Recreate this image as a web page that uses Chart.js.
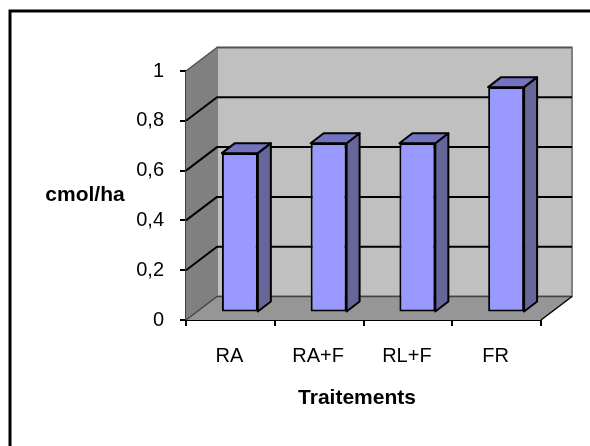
<!DOCTYPE html>
<html>
<head>
<meta charset="utf-8">
<style>
  html, body { margin: 0; padding: 0; background: #fff; }
  #wrap { width: 590px; height: 446px; }
</style>
<script src="https://cdn.jsdelivr.net/npm/chart.js@4"></script>
</head>
<body>
<div id="wrap"><canvas id="chart" width="590" height="446"></canvas></div>
<script>
const categories = ['RA', 'RA+F', 'RL+F', 'FR'];
const values = [0.64, 0.68, 0.68, 0.905];
const yTickLabels = ['0', '0,2', '0,4', '0,6', '0,8', '1'];
const yAxisTitle = 'cmol/ha';
const xAxisTitle = 'Traitements';

// Depth of the fake 3D box, and where the bars sit in it
const wallDx = 31, wallDy = -23.5;
const barDx = 9.5, barDy = -7.5;
const barDepthX = 13, barDepthY = -10;

function poly(ctx, pts, fill, stroke, width) {
    ctx.beginPath();
    pts.forEach((p, i) => i ? ctx.lineTo(p[0], p[1]) : ctx.moveTo(p[0], p[1]));
    ctx.closePath();
    if (fill) { ctx.fillStyle = fill; ctx.fill(); }
    if (stroke) { ctx.strokeStyle = stroke; ctx.lineWidth = width; ctx.lineJoin = 'round'; ctx.stroke(); }
}

// Frame, walls and floor behind the bars
const boxPlugin = {
    id: 'box',
    beforeDatasetsDraw(chart) {
        const ctx = chart.ctx;
        const { left, right, top, bottom } = chart.chartArea;
        const y = chart.scales.y;
        ctx.save();
        poly(ctx, [[left + wallDx, top + wallDy], [right + wallDx, top + wallDy], [right + wallDx, bottom + wallDy], [left + wallDx, bottom + wallDy]], '#c0c0c0', '#808080', 2);
        poly(ctx, [[left, top], [left + wallDx, top + wallDy], [left + wallDx, bottom + wallDy], [left, bottom]], '#808080', '#808080', 1);
        poly(ctx, [[left, bottom], [left + wallDx, bottom + wallDy], [right + wallDx, bottom + wallDy], [right, bottom]], '#969696', null);
        ctx.strokeStyle = '#555';
        ctx.lineWidth = 1.5;
        ctx.beginPath();
        ctx.moveTo(left, top);
        ctx.lineTo(left + wallDx, top + wallDy);
        ctx.lineTo(right + wallDx, top + wallDy);
        ctx.stroke();
        ctx.strokeStyle = '#000';
        ctx.lineWidth = 2;
        y.ticks.forEach(t => {
            if (t.value === 0 || t.value === 1) return;
            const py = y.getPixelForValue(t.value);
            ctx.beginPath();
            ctx.moveTo(left, py);
            ctx.lineTo(left + wallDx, py + wallDy);
            ctx.lineTo(right + wallDx, py + wallDy);
            ctx.stroke();
        });
        ctx.strokeStyle = '#444';
        ctx.lineWidth = 1.5;
        ctx.beginPath();
        ctx.moveTo(left, bottom);
        ctx.lineTo(left + wallDx, bottom + wallDy);
        ctx.lineTo(right + wallDx, bottom + wallDy);
        ctx.stroke();
        ctx.strokeStyle = '#000';
        ctx.beginPath();
        ctx.moveTo(right + wallDx, bottom + wallDy);
        ctx.lineTo(right, bottom);
        ctx.stroke();
        ctx.restore();
    },
    // The library draws the front faces, shifted into the box
    beforeDatasetDraw(chart, args) {
        const ctx = chart.ctx;
        ctx.save();
        ctx.translate(barDx, barDy);
        chart.getDatasetMeta(args.index).data.forEach(bar => {
            const l = bar.x - bar.width / 2, r = bar.x + bar.width / 2;
            const dx = barDepthX, dy = barDepthY;
            poly(ctx, [[r, bar.base], [r + dx, bar.base + dy], [r + dx, bar.y + dy], [r, bar.y]], '#666699', '#000', 2);
            poly(ctx, [[l, bar.y], [l + dx, bar.y + dy], [r + dx, bar.y + dy], [r, bar.y]], '#7373c0', '#000', 2);
        });
    },
    afterDatasetDraw(chart) {
        chart.ctx.restore();
    },
    afterDraw(chart) {
        const ctx = chart.ctx;
        ctx.save();
        // outer frame only shows on the top and left
        ctx.strokeStyle = '#000';
        ctx.lineWidth = 3;
        ctx.beginPath();
        ctx.moveTo(10, 446);
        ctx.lineTo(10, 11);
        ctx.lineTo(590, 11);
        ctx.stroke();
        // axis titles: the y one is horizontal, the x one sits left of centre
        ctx.fillStyle = '#000';
        ctx.font = 'bold 21px "Liberation Sans"';
        ctx.textAlign = 'center';
        ctx.textBaseline = 'middle';
        ctx.fillText(yAxisTitle, 85, 195);
        ctx.fillText(xAxisTitle, 357, 398);
        ctx.restore();
    }
};

const tickFont = { family: '"Liberation Sans"', size: 20 };

new Chart(document.getElementById('chart').getContext('2d'), {
    type: 'bar',
    data: {
        labels: categories,
        datasets: [{
            data: values,
            backgroundColor: '#9999ff',
            borderColor: '#000',
            borderWidth: 2,
            borderSkipped: false,
            barPercentage: 0.81,
            categoryPercentage: 0.5
        }]
    },
    options: {
        responsive: false,
        animation: false,
        layout: { padding: { top: 71, right: 49, left: 0, bottom: 0 } },
        plugins: { legend: { display: false }, tooltip: { enabled: false } },
        scales: {
            x: {
                afterFit: s => { s.height = 126; },
                grid: { offset: true, drawOnChartArea: false, color: '#000', lineWidth: 2, tickLength: 6 },
                border: { color: '#000', width: 2 },
                ticks: { color: '#000', font: tickFont, padding: 18, maxRotation: 0, labelOffset: -1 }
            },
            y: {
                min: 0,
                max: 1,
                afterFit: s => { s.width = 186; },
                grid: { drawOnChartArea: false, color: '#000', lineWidth: 2, tickLength: 6 },
                border: { color: '#000', width: 2 },
                ticks: { stepSize: 0.2, color: '#000', font: tickFont, padding: 16, callback: (v, i) => yTickLabels[i] }
            }
        }
    },
    plugins: [boxPlugin]
});
</script>
</body>
</html>
